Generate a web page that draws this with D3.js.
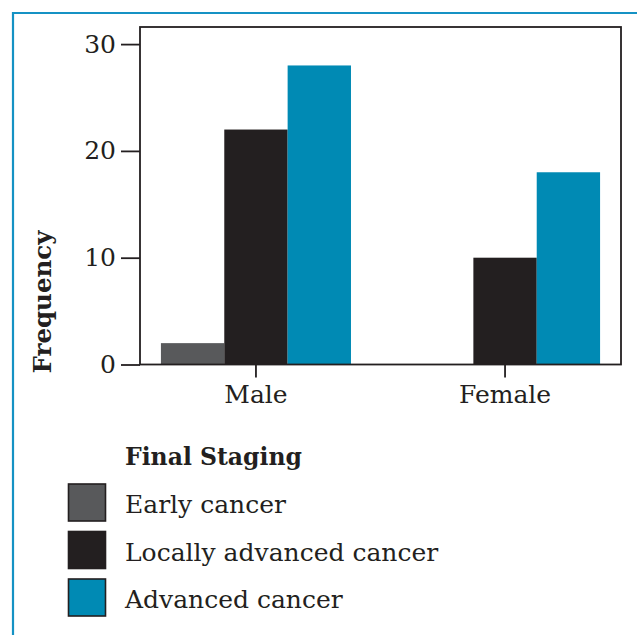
<!DOCTYPE html>
<html><head><meta charset="utf-8">
<script src="https://cdn.jsdelivr.net/npm/d3@7"></script>
<style>
html,body{margin:0;padding:0;background:#fff;}
svg text{font-family:"DejaVu Serif",serif;fill:#231f20;}
</style></head>
<body>
<svg id="c" width="637" height="635"></svg>
<script>
const categories = ["Male", "Female"];
const seriesNames = ["Early cancer", "Locally advanced cancer", "Advanced cancer"];
const early = [2, 0];
const locallyAdvanced = [22, 10];
const advanced = [28, 18];
const yTicks = [0, 10, 20, 30];
const colors = ["#58595b", "#231f20", "#008ab4"];
const seriesValues = [early, locallyAdvanced, advanced];

(function(){
const svg = d3.select("#c");
svg.append("path").attr("d","M13,635 L13,13 L637,13").attr("fill","none").attr("stroke","#1592c4").attr("stroke-width",2.2);

const pL = 140, pR = 621, pT = 27, pB = 364.5;
const x = d3.scaleBand().domain(categories).range([pL, pR]).paddingInner(0.237).paddingOuter(0.084);
const xs = d3.scaleBand().domain(seriesNames).range([0, x.bandwidth()]);
const y = d3.scaleLinear().domain([0, 30]).range([pB, 44.1]);

categories.forEach((c, ci) => {
  seriesNames.forEach((s, si) => {
    const v = seriesValues[si][ci];
    if (v <= 0) return;
    svg.append("rect")
      .attr("x", x(c) + xs(s)).attr("width", xs.bandwidth())
      .attr("y", y(v)).attr("height", y(0) - y(v))
      .attr("fill", colors[si]);
  });
});

svg.append("rect").attr("x", pL).attr("y", pT).attr("width", pR-pL).attr("height", pB-pT)
  .attr("fill","none").attr("stroke","#231f20").attr("stroke-width",1.8);

const ya = svg.append("g").attr("transform",`translate(${pL},0)`)
  .call(d3.axisLeft(y).tickValues(yTicks).tickSize(19).tickPadding(5).tickFormat(d3.format("d")));
ya.select(".domain").remove();
ya.selectAll("line").attr("stroke","#231f20").attr("stroke-width",1.8);
ya.selectAll("text").attr("font-size",25).attr("fill","#231f20");

const xa = svg.append("g").attr("transform",`translate(0,${pB})`)
  .call(d3.axisBottom(x).tickSize(13).tickPadding(8));
xa.select(".domain").remove();
xa.selectAll("line").attr("stroke","#231f20").attr("stroke-width",1.8);
xa.selectAll("text").attr("font-size",25).attr("fill","#231f20");
ya.attr("font-family",null); xa.attr("font-family",null);

svg.append("text").attr("transform","translate(51,302) rotate(-90)")
  .attr("text-anchor","middle").attr("font-size",24.5).attr("font-weight","bold").text("Frequency");

svg.append("text").attr("x",125).attr("y",465).attr("font-size",23.5).attr("font-weight","bold").text("Final Staging");
const lg = svg.append("g");
seriesNames.forEach((s, i) => {
  const yy = 484 + i*47.5;
  lg.append("rect").attr("x",68.5).attr("y",yy).attr("width",37).attr("height",37)
    .attr("fill",colors[i]).attr("stroke","#231f20").attr("stroke-width",1.6);
  lg.append("text").attr("x",125).attr("y",yy+29).attr("font-size",25).text(s);
});
})();
</script>
</body></html>
